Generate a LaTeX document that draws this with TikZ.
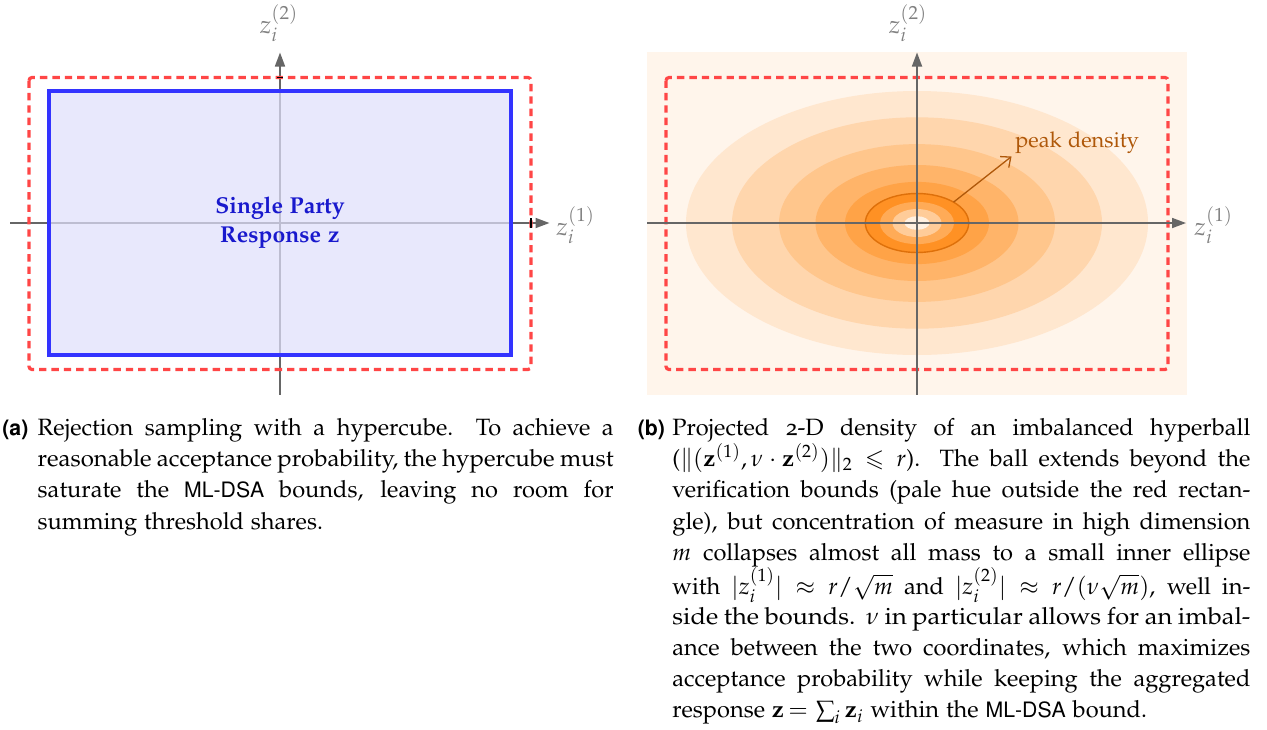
\documentclass[tikz,border=0pt]{standalone}
\usepackage[T1]{fontenc}
\usepackage[osf]{mathpazo}
\usepackage[scaled=0.9]{helvet}
\usepackage{amsmath,amssymb}
\usepackage{graphicx}
\usetikzlibrary{arrows.meta}
\newcommand\capfont{\fontsize{11.8}{15.7}\selectfont}
\newcommand\figfont{\fontsize{10.85}{13}\selectfont}
\newcommand\capsf{\sffamily}
\newcommand\tightsp{\spaceskip=0.22em\relax}
\newcommand\fitline[2]{\resizebox{#1}{\height}{\hbox{\tightsp #2}}}
\definecolor{axgray}{gray}{0.4}
\definecolor{lblgray}{gray}{0.5}
\definecolor{boundred}{RGB}{255,70,70}
\definecolor{cubeblue}{RGB}{51,51,255}
\definecolor{cubefill}{RGB}{223,223,251}
\definecolor{cubetext}{RGB}{25,25,205}
\definecolor{pkbrown}{RGB}{175,88,10}
\definecolor{ringline}{RGB}{222,112,10}
\tikzset{
  axis/.style={draw=axgray, line width=0.85pt, -{Triangle[length=7pt,width=5pt]}},
  bound/.style={draw=boundred, line width=1.6pt, dash pattern=on 3.7pt off 2.5pt, rounded corners=1.5pt},
  tickmark/.style={draw=black, line width=0.6pt},
  axlabel/.style={text=lblgray, inner sep=0, font=\fontsize{12.5}{14}\selectfont},
  capline/.style={inner sep=0, anchor=base west, font=\capfont},
  caplabel/.style={inner sep=0, anchor=base west, font=\capfont\capsf\bfseries},
}
\begin{document}
\begin{tikzpicture}[x=0.5pt,y=-0.5pt]
\useasboundingbox (0,0) rectangle (1267,729);
% ---------------- panel (a) ----------------
\coordinate (oa) at (280,223);
\coordinate (axL) at (10,223);
\coordinate (axR) at (549.5,223);
\coordinate (ayB) at (280,394.5);
\coordinate (ayT) at (280,52.5);
\draw[axis] (axL) -- (axR);
\draw[axis] (ayB) -- (ayT);
\draw[draw=cubeblue, line width=1.6pt, fill=cubefill, fill opacity=0.72] (49,91) rectangle (511,355);
\draw[bound] (29,77.5) rectangle (531,369.5);
\draw[tickmark] (531,218) -- (531,228);
\draw[tickmark] (277,77.5) -- (283,77.5);
\node[font=\fontsize{11.5}{14.2}\selectfont\bfseries, text=cubetext, align=center, inner sep=0] (sp) at (oa) {Single Party\\Response $\mathbf{z}$};
\node[axlabel, anchor=base] (la2) at (279,33) {$z_i^{(2)}$};
\node[axlabel, anchor=base west] (la1) at (556,235) {$z_i^{(1)}$};
% ---------------- panel (b) ----------------
\fill[orange!8] (647,52) rectangle (1187,394.5);
\coordinate (ob) at (917,223);
\fill[orange!19] (ob) ellipse [x radius=115.5pt, y radius=66pt];
\fill[orange!32] (ob) ellipse [x radius=92.5pt, y radius=52.85pt];
\fill[orange!45] (ob) ellipse [x radius=69pt, y radius=39.45pt];
\fill[orange!59] (ob) ellipse [x radius=50.75pt, y radius=29pt];
\fill[orange!72] (ob) ellipse [x radius=36pt, y radius=20.55pt];
\filldraw[fill=orange!86, draw=ringline, line width=0.7pt] (ob) ellipse [x radius=25.85pt, y radius=14.75pt];
\fill[orange!66] (ob) ellipse [x radius=18.5pt, y radius=10.55pt];
\fill[orange!40] (ob) ellipse [x radius=12.25pt, y radius=7pt];
\fill[orange!12] (ob) ellipse [x radius=6.25pt, y radius=3.4pt];
\draw[bound] (666,77.5) rectangle (1168,369.5);
\coordinate (bxL) at (647,223);
\coordinate (bxR) at (1186,223);
\coordinate (byB) at (917,394.5);
\coordinate (byT) at (917,52.5);
\draw[axis] (bxL) -- (bxR);
\draw[axis] (byB) -- (byT);
\node[axlabel, anchor=base] (lb2) at (908,33) {$z_i^{(2)}$};
\node[axlabel, anchor=base west] (lb1) at (1194,235) {$z_i^{(1)}$};
\node[inner sep=0, anchor=base west, font=\figfont, text=pkbrown] (pk) at (1015,147) {peak density};
\coordinate (pkstart) at (953.6,202.1);
\coordinate (pktip) at (1011.5,156.5);
\draw[draw=pkbrown, line width=0.65pt, -{Straight Barb[length=4pt,width=7pt]}] (pkstart) -- (pktip);
% ---------------- captions ----------------
\node[caplabel] (cal) at (2,435) {(a)};
\node[capline] (ca1) at (37.3,435) {\hbox to 288pt{Rejection sampling with a hypercube.  To achieve a}};
\node[capline] (ca2) at (37.3,466.4) {\fitline{288pt}{reasonable acceptance probability, the hypercube must}};
\node[capline] (ca3) at (37.3,497.8) {\hbox to 288pt{saturate the {\capsf ML-DSA} bounds, leaving no room for}};
\node[capline] (ca4) at (37.3,529.2) {summing threshold shares.};
\node[caplabel] (cbl) at (637.4,435) {(b)};
\node[capline] (cb1) at (672,435) {\hbox to 289pt{Projected 2-D density of an imbalanced hyperball}};
\node[capline] (cb2) at (672,466.4) {\hbox to 289pt{($\|(\mathbf{z}^{(1)}, \nu \cdot \mathbf{z}^{(2)})\|_2 \leqslant r$).  The ball extends beyond the}};
\node[capline] (cb3) at (672,497.8) {\hbox to 289pt{verification bounds (pale hue outside the red rectan-}};
\node[capline] (cb4) at (672,529.2) {\hbox to 289pt{gle), but concentration of measure in high dimension}};
\node[capline] (cb5) at (672,560.6) {\hbox to 289pt{$m$ collapses almost all mass to a small inner ellipse}};
\node[capline] (cb6) at (672,594) {\hbox to 289pt{with $|z_i^{(1)}| \approx r/\sqrt{m}$ and $|z_i^{(2)}| \approx r/(\nu\sqrt{m})$, well in-}};
\node[capline] (cb7) at (672,624.8) {\fitline{289pt}{side the bounds.\hskip0.4em $\nu$ in particular allows for an imbal-}};
\node[capline] (cb8) at (672,655.7) {\hbox to 289pt{ance between the two coordinates, which maximizes}};
\node[capline] (cb9) at (672,686.6) {\hbox to 289pt{acceptance probability while keeping the aggregated}};
\node[capline] (cb10) at (672,717.6) {response $\mathbf{z}\,{=}\,\sum_i \mathbf{z}_i$ within the {\capsf ML-DSA} bound.};
\end{tikzpicture}
\end{document}
